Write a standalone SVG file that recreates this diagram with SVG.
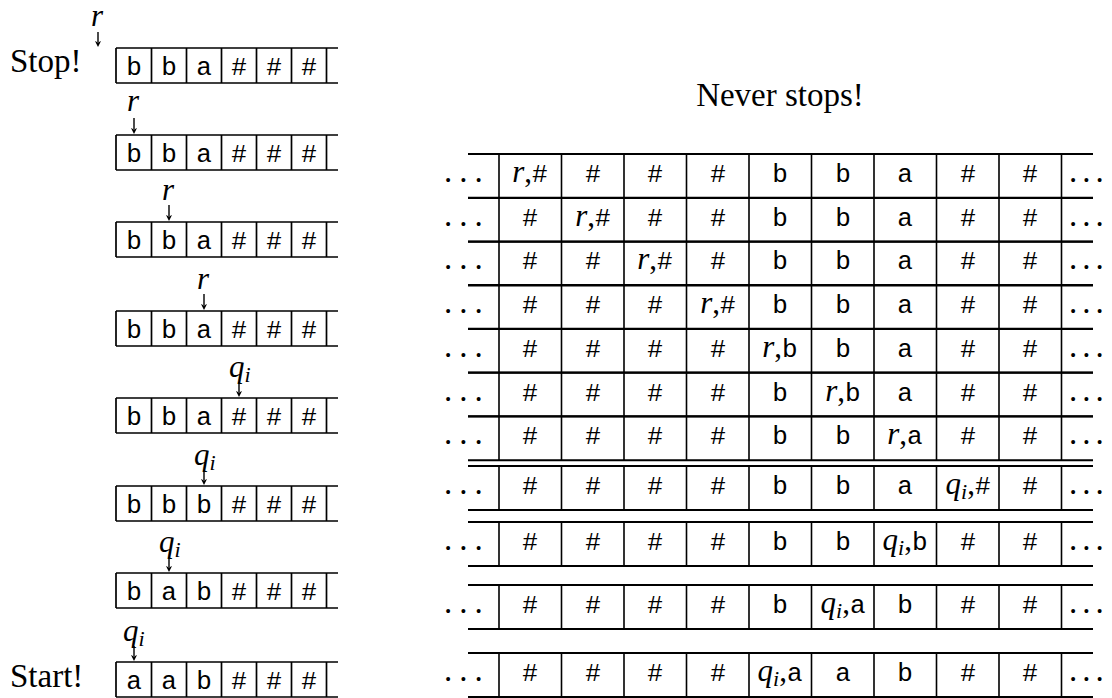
<svg xmlns="http://www.w3.org/2000/svg" width="1112" height="698" viewBox="0 0 1112 698">
<text x="10" y="72" font-family="Liberation Serif" font-size="33">Stop!</text>
<text x="10" y="687" font-family="Liberation Serif" font-size="33">Start!</text>
<text x="780" y="106" text-anchor="middle" font-family="Liberation Serif" font-size="33">Never stops!</text>

<g id="tape-1" transform="translate(0,48)">
<path fill="none" stroke="#000" stroke-width="1.7" d="M116,0 H338 M116,35 H338 M116,0 V35 M151.5,0 V35 M186.5,0 V35 M221.5,0 V35 M256.5,0 V35 M291.5,0 V35 M326.5,0 V35"/>
<text x="134" y="27" text-anchor="middle" font-family="Liberation Mono" font-size="26">b</text><text x="169" y="27" text-anchor="middle" font-family="Liberation Mono" font-size="26">b</text><text x="204" y="27" text-anchor="middle" font-family="Liberation Mono" font-size="26">a</text><text x="239" y="27" text-anchor="middle" font-family="Liberation Mono" font-size="26">#</text><text x="274" y="27" text-anchor="middle" font-family="Liberation Mono" font-size="26">#</text><text x="309" y="27" text-anchor="middle" font-family="Liberation Mono" font-size="26">#</text>
<text x="97" y="-22" text-anchor="middle" font-family="Liberation Serif" font-style="italic" font-size="31">r</text>
</g>
<g id="tape-2" transform="translate(0,135)">
<path fill="none" stroke="#000" stroke-width="1.7" d="M116,0 H338 M116,35 H338 M116,0 V35 M151.5,0 V35 M186.5,0 V35 M221.5,0 V35 M256.5,0 V35 M291.5,0 V35 M326.5,0 V35"/>
<text x="134" y="27" text-anchor="middle" font-family="Liberation Mono" font-size="26">b</text><text x="169" y="27" text-anchor="middle" font-family="Liberation Mono" font-size="26">b</text><text x="204" y="27" text-anchor="middle" font-family="Liberation Mono" font-size="26">a</text><text x="239" y="27" text-anchor="middle" font-family="Liberation Mono" font-size="26">#</text><text x="274" y="27" text-anchor="middle" font-family="Liberation Mono" font-size="26">#</text><text x="309" y="27" text-anchor="middle" font-family="Liberation Mono" font-size="26">#</text>
<text x="133" y="-24" text-anchor="middle" font-family="Liberation Serif" font-style="italic" font-size="31">r</text>
</g>
<g id="tape-3" transform="translate(0,222)">
<path fill="none" stroke="#000" stroke-width="1.7" d="M116,0 H338 M116,35 H338 M116,0 V35 M151.5,0 V35 M186.5,0 V35 M221.5,0 V35 M256.5,0 V35 M291.5,0 V35 M326.5,0 V35"/>
<text x="134" y="27" text-anchor="middle" font-family="Liberation Mono" font-size="26">b</text><text x="169" y="27" text-anchor="middle" font-family="Liberation Mono" font-size="26">b</text><text x="204" y="27" text-anchor="middle" font-family="Liberation Mono" font-size="26">a</text><text x="239" y="27" text-anchor="middle" font-family="Liberation Mono" font-size="26">#</text><text x="274" y="27" text-anchor="middle" font-family="Liberation Mono" font-size="26">#</text><text x="309" y="27" text-anchor="middle" font-family="Liberation Mono" font-size="26">#</text>
<text x="168" y="-22" text-anchor="middle" font-family="Liberation Serif" font-style="italic" font-size="31">r</text>
</g>
<g id="tape-4" transform="translate(0,311)">
<path fill="none" stroke="#000" stroke-width="1.7" d="M116,0 H338 M116,35 H338 M116,0 V35 M151.5,0 V35 M186.5,0 V35 M221.5,0 V35 M256.5,0 V35 M291.5,0 V35 M326.5,0 V35"/>
<text x="134" y="27" text-anchor="middle" font-family="Liberation Mono" font-size="26">b</text><text x="169" y="27" text-anchor="middle" font-family="Liberation Mono" font-size="26">b</text><text x="204" y="27" text-anchor="middle" font-family="Liberation Mono" font-size="26">a</text><text x="239" y="27" text-anchor="middle" font-family="Liberation Mono" font-size="26">#</text><text x="274" y="27" text-anchor="middle" font-family="Liberation Mono" font-size="26">#</text><text x="309" y="27" text-anchor="middle" font-family="Liberation Mono" font-size="26">#</text>
<text x="203" y="-22" text-anchor="middle" font-family="Liberation Serif" font-style="italic" font-size="31">r</text>
</g>
<g id="tape-5" transform="translate(0,398)">
<path fill="none" stroke="#000" stroke-width="1.7" d="M116,0 H338 M116,35 H338 M116,0 V35 M151.5,0 V35 M186.5,0 V35 M221.5,0 V35 M256.5,0 V35 M291.5,0 V35 M326.5,0 V35"/>
<text x="134" y="27" text-anchor="middle" font-family="Liberation Mono" font-size="26">b</text><text x="169" y="27" text-anchor="middle" font-family="Liberation Mono" font-size="26">b</text><text x="204" y="27" text-anchor="middle" font-family="Liberation Mono" font-size="26">a</text><text x="239" y="27" text-anchor="middle" font-family="Liberation Mono" font-size="26">#</text><text x="274" y="27" text-anchor="middle" font-family="Liberation Mono" font-size="26">#</text><text x="309" y="27" text-anchor="middle" font-family="Liberation Mono" font-size="26">#</text>
<text x="229" y="-21" font-family="Liberation Serif" font-style="italic" font-size="31">q<tspan dy="5" font-size="22">i</tspan></text>
</g>
<g id="tape-6" transform="translate(0,486)">
<path fill="none" stroke="#000" stroke-width="1.7" d="M116,0 H338 M116,35 H338 M116,0 V35 M151.5,0 V35 M186.5,0 V35 M221.5,0 V35 M256.5,0 V35 M291.5,0 V35 M326.5,0 V35"/>
<text x="134" y="27" text-anchor="middle" font-family="Liberation Mono" font-size="26">b</text><text x="169" y="27" text-anchor="middle" font-family="Liberation Mono" font-size="26">b</text><text x="204" y="27" text-anchor="middle" font-family="Liberation Mono" font-size="26">b</text><text x="239" y="27" text-anchor="middle" font-family="Liberation Mono" font-size="26">#</text><text x="274" y="27" text-anchor="middle" font-family="Liberation Mono" font-size="26">#</text><text x="309" y="27" text-anchor="middle" font-family="Liberation Mono" font-size="26">#</text>
<text x="194" y="-21" font-family="Liberation Serif" font-style="italic" font-size="31">q<tspan dy="5" font-size="22">i</tspan></text>
</g>
<g id="tape-7" transform="translate(0,573)">
<path fill="none" stroke="#000" stroke-width="1.7" d="M116,0 H338 M116,35 H338 M116,0 V35 M151.5,0 V35 M186.5,0 V35 M221.5,0 V35 M256.5,0 V35 M291.5,0 V35 M326.5,0 V35"/>
<text x="134" y="27" text-anchor="middle" font-family="Liberation Mono" font-size="26">b</text><text x="169" y="27" text-anchor="middle" font-family="Liberation Mono" font-size="26">a</text><text x="204" y="27" text-anchor="middle" font-family="Liberation Mono" font-size="26">b</text><text x="239" y="27" text-anchor="middle" font-family="Liberation Mono" font-size="26">#</text><text x="274" y="27" text-anchor="middle" font-family="Liberation Mono" font-size="26">#</text><text x="309" y="27" text-anchor="middle" font-family="Liberation Mono" font-size="26">#</text>
<text x="159" y="-21" font-family="Liberation Serif" font-style="italic" font-size="31">q<tspan dy="5" font-size="22">i</tspan></text>
</g>
<g id="tape-8" transform="translate(0,662)">
<path fill="none" stroke="#000" stroke-width="1.7" d="M116,0 H338 M116,35 H338 M116,0 V35 M151.5,0 V35 M186.5,0 V35 M221.5,0 V35 M256.5,0 V35 M291.5,0 V35 M326.5,0 V35"/>
<text x="134" y="27" text-anchor="middle" font-family="Liberation Mono" font-size="26">a</text><text x="169" y="27" text-anchor="middle" font-family="Liberation Mono" font-size="26">a</text><text x="204" y="27" text-anchor="middle" font-family="Liberation Mono" font-size="26">b</text><text x="239" y="27" text-anchor="middle" font-family="Liberation Mono" font-size="26">#</text><text x="274" y="27" text-anchor="middle" font-family="Liberation Mono" font-size="26">#</text><text x="309" y="27" text-anchor="middle" font-family="Liberation Mono" font-size="26">#</text>
<text x="123" y="-21" font-family="Liberation Serif" font-style="italic" font-size="31">q<tspan dy="5" font-size="22">i</tspan></text>
</g>

<g id="row-1" transform="translate(0,154)">
<path fill="none" stroke="#000" stroke-width="2" d="M468,0 H1093 M468,44 H1093"/><path fill="none" stroke="#000" stroke-width="1.6" d="M499,0 V44 M561.5,0 V44 M624,0 V44 M686.5,0 V44 M749,0 V44 M811.5,0 V44 M874,0 V44 M936.5,0 V44 M999,0 V44 M1061.5,0 V44"/>
<text x="444" y="28" font-family="Liberation Serif" font-size="33" letter-spacing="7">...</text><text x="1069" y="28" font-family="Liberation Serif" font-size="33" letter-spacing="5">...</text>
<text x="530" y="28" text-anchor="middle" font-family="Liberation Serif" font-size="31"><tspan font-style="italic">r</tspan>,<tspan font-family="Liberation Mono" font-size="26">#</tspan></text>
<text x="593" y="28" text-anchor="middle" font-family="Liberation Mono" font-size="26">#</text><text x="655" y="28" text-anchor="middle" font-family="Liberation Mono" font-size="26">#</text><text x="718" y="28" text-anchor="middle" font-family="Liberation Mono" font-size="26">#</text><text x="780" y="28" text-anchor="middle" font-family="Liberation Mono" font-size="26">b</text><text x="843" y="28" text-anchor="middle" font-family="Liberation Mono" font-size="26">b</text><text x="905" y="28" text-anchor="middle" font-family="Liberation Mono" font-size="26">a</text><text x="968" y="28" text-anchor="middle" font-family="Liberation Mono" font-size="26">#</text><text x="1030" y="28" text-anchor="middle" font-family="Liberation Mono" font-size="26">#</text>
</g>
<g id="row-2" transform="translate(0,197.7)">
<path fill="none" stroke="#000" stroke-width="2" d="M468,0 H1093 M468,44 H1093"/><path fill="none" stroke="#000" stroke-width="1.6" d="M499,0 V44 M561.5,0 V44 M624,0 V44 M686.5,0 V44 M749,0 V44 M811.5,0 V44 M874,0 V44 M936.5,0 V44 M999,0 V44 M1061.5,0 V44"/>
<text x="444" y="28" font-family="Liberation Serif" font-size="33" letter-spacing="7">...</text><text x="1069" y="28" font-family="Liberation Serif" font-size="33" letter-spacing="5">...</text>
<text x="593" y="28" text-anchor="middle" font-family="Liberation Serif" font-size="31"><tspan font-style="italic">r</tspan>,<tspan font-family="Liberation Mono" font-size="26">#</tspan></text>
<text x="530" y="28" text-anchor="middle" font-family="Liberation Mono" font-size="26">#</text><text x="655" y="28" text-anchor="middle" font-family="Liberation Mono" font-size="26">#</text><text x="718" y="28" text-anchor="middle" font-family="Liberation Mono" font-size="26">#</text><text x="780" y="28" text-anchor="middle" font-family="Liberation Mono" font-size="26">b</text><text x="843" y="28" text-anchor="middle" font-family="Liberation Mono" font-size="26">b</text><text x="905" y="28" text-anchor="middle" font-family="Liberation Mono" font-size="26">a</text><text x="968" y="28" text-anchor="middle" font-family="Liberation Mono" font-size="26">#</text><text x="1030" y="28" text-anchor="middle" font-family="Liberation Mono" font-size="26">#</text>
</g>
<g id="row-3" transform="translate(0,241.4)">
<path fill="none" stroke="#000" stroke-width="2" d="M468,0 H1093 M468,44 H1093"/><path fill="none" stroke="#000" stroke-width="1.6" d="M499,0 V44 M561.5,0 V44 M624,0 V44 M686.5,0 V44 M749,0 V44 M811.5,0 V44 M874,0 V44 M936.5,0 V44 M999,0 V44 M1061.5,0 V44"/>
<text x="444" y="28" font-family="Liberation Serif" font-size="33" letter-spacing="7">...</text><text x="1069" y="28" font-family="Liberation Serif" font-size="33" letter-spacing="5">...</text>
<text x="655" y="28" text-anchor="middle" font-family="Liberation Serif" font-size="31"><tspan font-style="italic">r</tspan>,<tspan font-family="Liberation Mono" font-size="26">#</tspan></text>
<text x="530" y="28" text-anchor="middle" font-family="Liberation Mono" font-size="26">#</text><text x="593" y="28" text-anchor="middle" font-family="Liberation Mono" font-size="26">#</text><text x="718" y="28" text-anchor="middle" font-family="Liberation Mono" font-size="26">#</text><text x="780" y="28" text-anchor="middle" font-family="Liberation Mono" font-size="26">b</text><text x="843" y="28" text-anchor="middle" font-family="Liberation Mono" font-size="26">b</text><text x="905" y="28" text-anchor="middle" font-family="Liberation Mono" font-size="26">a</text><text x="968" y="28" text-anchor="middle" font-family="Liberation Mono" font-size="26">#</text><text x="1030" y="28" text-anchor="middle" font-family="Liberation Mono" font-size="26">#</text>
</g>
<g id="row-4" transform="translate(0,285.1)">
<path fill="none" stroke="#000" stroke-width="2" d="M468,0 H1093 M468,44 H1093"/><path fill="none" stroke="#000" stroke-width="1.6" d="M499,0 V44 M561.5,0 V44 M624,0 V44 M686.5,0 V44 M749,0 V44 M811.5,0 V44 M874,0 V44 M936.5,0 V44 M999,0 V44 M1061.5,0 V44"/>
<text x="444" y="28" font-family="Liberation Serif" font-size="33" letter-spacing="7">...</text><text x="1069" y="28" font-family="Liberation Serif" font-size="33" letter-spacing="5">...</text>
<text x="718" y="28" text-anchor="middle" font-family="Liberation Serif" font-size="31"><tspan font-style="italic">r</tspan>,<tspan font-family="Liberation Mono" font-size="26">#</tspan></text>
<text x="530" y="28" text-anchor="middle" font-family="Liberation Mono" font-size="26">#</text><text x="593" y="28" text-anchor="middle" font-family="Liberation Mono" font-size="26">#</text><text x="655" y="28" text-anchor="middle" font-family="Liberation Mono" font-size="26">#</text><text x="780" y="28" text-anchor="middle" font-family="Liberation Mono" font-size="26">b</text><text x="843" y="28" text-anchor="middle" font-family="Liberation Mono" font-size="26">b</text><text x="905" y="28" text-anchor="middle" font-family="Liberation Mono" font-size="26">a</text><text x="968" y="28" text-anchor="middle" font-family="Liberation Mono" font-size="26">#</text><text x="1030" y="28" text-anchor="middle" font-family="Liberation Mono" font-size="26">#</text>
</g>
<g id="row-5" transform="translate(0,328.8)">
<path fill="none" stroke="#000" stroke-width="2" d="M468,0 H1093 M468,44 H1093"/><path fill="none" stroke="#000" stroke-width="1.6" d="M499,0 V44 M561.5,0 V44 M624,0 V44 M686.5,0 V44 M749,0 V44 M811.5,0 V44 M874,0 V44 M936.5,0 V44 M999,0 V44 M1061.5,0 V44"/>
<text x="444" y="28" font-family="Liberation Serif" font-size="33" letter-spacing="7">...</text><text x="1069" y="28" font-family="Liberation Serif" font-size="33" letter-spacing="5">...</text>
<text x="780" y="28" text-anchor="middle" font-family="Liberation Serif" font-size="31"><tspan font-style="italic">r</tspan>,<tspan font-family="Liberation Mono" font-size="26">b</tspan></text>
<text x="530" y="28" text-anchor="middle" font-family="Liberation Mono" font-size="26">#</text><text x="593" y="28" text-anchor="middle" font-family="Liberation Mono" font-size="26">#</text><text x="655" y="28" text-anchor="middle" font-family="Liberation Mono" font-size="26">#</text><text x="718" y="28" text-anchor="middle" font-family="Liberation Mono" font-size="26">#</text><text x="843" y="28" text-anchor="middle" font-family="Liberation Mono" font-size="26">b</text><text x="905" y="28" text-anchor="middle" font-family="Liberation Mono" font-size="26">a</text><text x="968" y="28" text-anchor="middle" font-family="Liberation Mono" font-size="26">#</text><text x="1030" y="28" text-anchor="middle" font-family="Liberation Mono" font-size="26">#</text>
</g>
<g id="row-6" transform="translate(0,372.5)">
<path fill="none" stroke="#000" stroke-width="2" d="M468,0 H1093 M468,44 H1093"/><path fill="none" stroke="#000" stroke-width="1.6" d="M499,0 V44 M561.5,0 V44 M624,0 V44 M686.5,0 V44 M749,0 V44 M811.5,0 V44 M874,0 V44 M936.5,0 V44 M999,0 V44 M1061.5,0 V44"/>
<text x="444" y="28" font-family="Liberation Serif" font-size="33" letter-spacing="7">...</text><text x="1069" y="28" font-family="Liberation Serif" font-size="33" letter-spacing="5">...</text>
<text x="843" y="28" text-anchor="middle" font-family="Liberation Serif" font-size="31"><tspan font-style="italic">r</tspan>,<tspan font-family="Liberation Mono" font-size="26">b</tspan></text>
<text x="530" y="28" text-anchor="middle" font-family="Liberation Mono" font-size="26">#</text><text x="593" y="28" text-anchor="middle" font-family="Liberation Mono" font-size="26">#</text><text x="655" y="28" text-anchor="middle" font-family="Liberation Mono" font-size="26">#</text><text x="718" y="28" text-anchor="middle" font-family="Liberation Mono" font-size="26">#</text><text x="780" y="28" text-anchor="middle" font-family="Liberation Mono" font-size="26">b</text><text x="905" y="28" text-anchor="middle" font-family="Liberation Mono" font-size="26">a</text><text x="968" y="28" text-anchor="middle" font-family="Liberation Mono" font-size="26">#</text><text x="1030" y="28" text-anchor="middle" font-family="Liberation Mono" font-size="26">#</text>
</g>
<g id="row-7" transform="translate(0,416.2)">
<path fill="none" stroke="#000" stroke-width="2" d="M468,0 H1093 M468,44 H1093"/><path fill="none" stroke="#000" stroke-width="1.6" d="M499,0 V44 M561.5,0 V44 M624,0 V44 M686.5,0 V44 M749,0 V44 M811.5,0 V44 M874,0 V44 M936.5,0 V44 M999,0 V44 M1061.5,0 V44"/>
<text x="444" y="28" font-family="Liberation Serif" font-size="33" letter-spacing="7">...</text><text x="1069" y="28" font-family="Liberation Serif" font-size="33" letter-spacing="5">...</text>
<text x="905" y="28" text-anchor="middle" font-family="Liberation Serif" font-size="31"><tspan font-style="italic">r</tspan>,<tspan font-family="Liberation Mono" font-size="26">a</tspan></text>
<text x="530" y="28" text-anchor="middle" font-family="Liberation Mono" font-size="26">#</text><text x="593" y="28" text-anchor="middle" font-family="Liberation Mono" font-size="26">#</text><text x="655" y="28" text-anchor="middle" font-family="Liberation Mono" font-size="26">#</text><text x="718" y="28" text-anchor="middle" font-family="Liberation Mono" font-size="26">#</text><text x="780" y="28" text-anchor="middle" font-family="Liberation Mono" font-size="26">b</text><text x="843" y="28" text-anchor="middle" font-family="Liberation Mono" font-size="26">b</text><text x="968" y="28" text-anchor="middle" font-family="Liberation Mono" font-size="26">#</text><text x="1030" y="28" text-anchor="middle" font-family="Liberation Mono" font-size="26">#</text>
</g>
<g id="row-8" transform="translate(0,466)">
<path fill="none" stroke="#000" stroke-width="2" d="M468,0 H1093 M468,44 H1093"/><path fill="none" stroke="#000" stroke-width="1.6" d="M499,0 V44 M561.5,0 V44 M624,0 V44 M686.5,0 V44 M749,0 V44 M811.5,0 V44 M874,0 V44 M936.5,0 V44 M999,0 V44 M1061.5,0 V44"/>
<text x="444" y="28" font-family="Liberation Serif" font-size="33" letter-spacing="7">...</text><text x="1069" y="28" font-family="Liberation Serif" font-size="33" letter-spacing="5">...</text>
<text x="968" y="28" text-anchor="middle" font-family="Liberation Serif" font-size="31"><tspan font-style="italic">q</tspan><tspan dy="5" font-style="italic" font-size="22">i</tspan><tspan dy="-5">,</tspan><tspan font-family="Liberation Mono" font-size="26">#</tspan></text>
<text x="530" y="28" text-anchor="middle" font-family="Liberation Mono" font-size="26">#</text><text x="593" y="28" text-anchor="middle" font-family="Liberation Mono" font-size="26">#</text><text x="655" y="28" text-anchor="middle" font-family="Liberation Mono" font-size="26">#</text><text x="718" y="28" text-anchor="middle" font-family="Liberation Mono" font-size="26">#</text><text x="780" y="28" text-anchor="middle" font-family="Liberation Mono" font-size="26">b</text><text x="843" y="28" text-anchor="middle" font-family="Liberation Mono" font-size="26">b</text><text x="905" y="28" text-anchor="middle" font-family="Liberation Mono" font-size="26">a</text><text x="1030" y="28" text-anchor="middle" font-family="Liberation Mono" font-size="26">#</text>
</g>
<g id="row-9" transform="translate(0,522)">
<path fill="none" stroke="#000" stroke-width="2" d="M468,0 H1093 M468,44 H1093"/><path fill="none" stroke="#000" stroke-width="1.6" d="M499,0 V44 M561.5,0 V44 M624,0 V44 M686.5,0 V44 M749,0 V44 M811.5,0 V44 M874,0 V44 M936.5,0 V44 M999,0 V44 M1061.5,0 V44"/>
<text x="444" y="28" font-family="Liberation Serif" font-size="33" letter-spacing="7">...</text><text x="1069" y="28" font-family="Liberation Serif" font-size="33" letter-spacing="5">...</text>
<text x="905" y="28" text-anchor="middle" font-family="Liberation Serif" font-size="31"><tspan font-style="italic">q</tspan><tspan dy="5" font-style="italic" font-size="22">i</tspan><tspan dy="-5">,</tspan><tspan font-family="Liberation Mono" font-size="26">b</tspan></text>
<text x="530" y="28" text-anchor="middle" font-family="Liberation Mono" font-size="26">#</text><text x="593" y="28" text-anchor="middle" font-family="Liberation Mono" font-size="26">#</text><text x="655" y="28" text-anchor="middle" font-family="Liberation Mono" font-size="26">#</text><text x="718" y="28" text-anchor="middle" font-family="Liberation Mono" font-size="26">#</text><text x="780" y="28" text-anchor="middle" font-family="Liberation Mono" font-size="26">b</text><text x="843" y="28" text-anchor="middle" font-family="Liberation Mono" font-size="26">b</text><text x="968" y="28" text-anchor="middle" font-family="Liberation Mono" font-size="26">#</text><text x="1030" y="28" text-anchor="middle" font-family="Liberation Mono" font-size="26">#</text>
</g>
<g id="row-10" transform="translate(0,585)">
<path fill="none" stroke="#000" stroke-width="2" d="M468,0 H1093 M468,44 H1093"/><path fill="none" stroke="#000" stroke-width="1.6" d="M499,0 V44 M561.5,0 V44 M624,0 V44 M686.5,0 V44 M749,0 V44 M811.5,0 V44 M874,0 V44 M936.5,0 V44 M999,0 V44 M1061.5,0 V44"/>
<text x="444" y="28" font-family="Liberation Serif" font-size="33" letter-spacing="7">...</text><text x="1069" y="28" font-family="Liberation Serif" font-size="33" letter-spacing="5">...</text>
<text x="843" y="28" text-anchor="middle" font-family="Liberation Serif" font-size="31"><tspan font-style="italic">q</tspan><tspan dy="5" font-style="italic" font-size="22">i</tspan><tspan dy="-5">,</tspan><tspan font-family="Liberation Mono" font-size="26">a</tspan></text>
<text x="530" y="28" text-anchor="middle" font-family="Liberation Mono" font-size="26">#</text><text x="593" y="28" text-anchor="middle" font-family="Liberation Mono" font-size="26">#</text><text x="655" y="28" text-anchor="middle" font-family="Liberation Mono" font-size="26">#</text><text x="718" y="28" text-anchor="middle" font-family="Liberation Mono" font-size="26">#</text><text x="780" y="28" text-anchor="middle" font-family="Liberation Mono" font-size="26">b</text><text x="905" y="28" text-anchor="middle" font-family="Liberation Mono" font-size="26">b</text><text x="968" y="28" text-anchor="middle" font-family="Liberation Mono" font-size="26">#</text><text x="1030" y="28" text-anchor="middle" font-family="Liberation Mono" font-size="26">#</text>
</g>
<g id="row-11" transform="translate(0,653)">
<path fill="none" stroke="#000" stroke-width="2" d="M468,0 H1093 M468,44 H1093"/><path fill="none" stroke="#000" stroke-width="1.6" d="M499,0 V44 M561.5,0 V44 M624,0 V44 M686.5,0 V44 M749,0 V44 M811.5,0 V44 M874,0 V44 M936.5,0 V44 M999,0 V44 M1061.5,0 V44"/>
<text x="444" y="28" font-family="Liberation Serif" font-size="33" letter-spacing="7">...</text><text x="1069" y="28" font-family="Liberation Serif" font-size="33" letter-spacing="5">...</text>
<text x="780" y="28" text-anchor="middle" font-family="Liberation Serif" font-size="31"><tspan font-style="italic">q</tspan><tspan dy="5" font-style="italic" font-size="22">i</tspan><tspan dy="-5">,</tspan><tspan font-family="Liberation Mono" font-size="26">a</tspan></text>
<text x="530" y="28" text-anchor="middle" font-family="Liberation Mono" font-size="26">#</text><text x="593" y="28" text-anchor="middle" font-family="Liberation Mono" font-size="26">#</text><text x="655" y="28" text-anchor="middle" font-family="Liberation Mono" font-size="26">#</text><text x="718" y="28" text-anchor="middle" font-family="Liberation Mono" font-size="26">#</text><text x="843" y="28" text-anchor="middle" font-family="Liberation Mono" font-size="26">a</text><text x="905" y="28" text-anchor="middle" font-family="Liberation Mono" font-size="26">b</text><text x="968" y="28" text-anchor="middle" font-family="Liberation Mono" font-size="26">#</text><text x="1030" y="28" text-anchor="middle" font-family="Liberation Mono" font-size="26">#</text>
</g>

<g id="connectors">
<path fill="none" stroke="#000" stroke-width="1.4" d="M98,32 V42 M134,118 V129 M169,205 V216 M204,294 V305 M239,382 V392 M204,470 V480 M169,557 V567 M134,646 V656"/>
<path fill="#000" d="M95,41 L98,47 L101,41 L98,42.5 Z M131,128 L134,134 L137,128 L134,129.5 Z M166,215 L169,221 L172,215 L169,216.5 Z M201,304 L204,310 L207,304 L204,305.5 Z M236,391 L239,397 L242,391 L239,392.5 Z M201,479 L204,485 L207,479 L204,480.5 Z M166,566 L169,572 L172,566 L169,567.5 Z M131,655 L134,661 L137,655 L134,656.5 Z"/>
</g>
</svg>
